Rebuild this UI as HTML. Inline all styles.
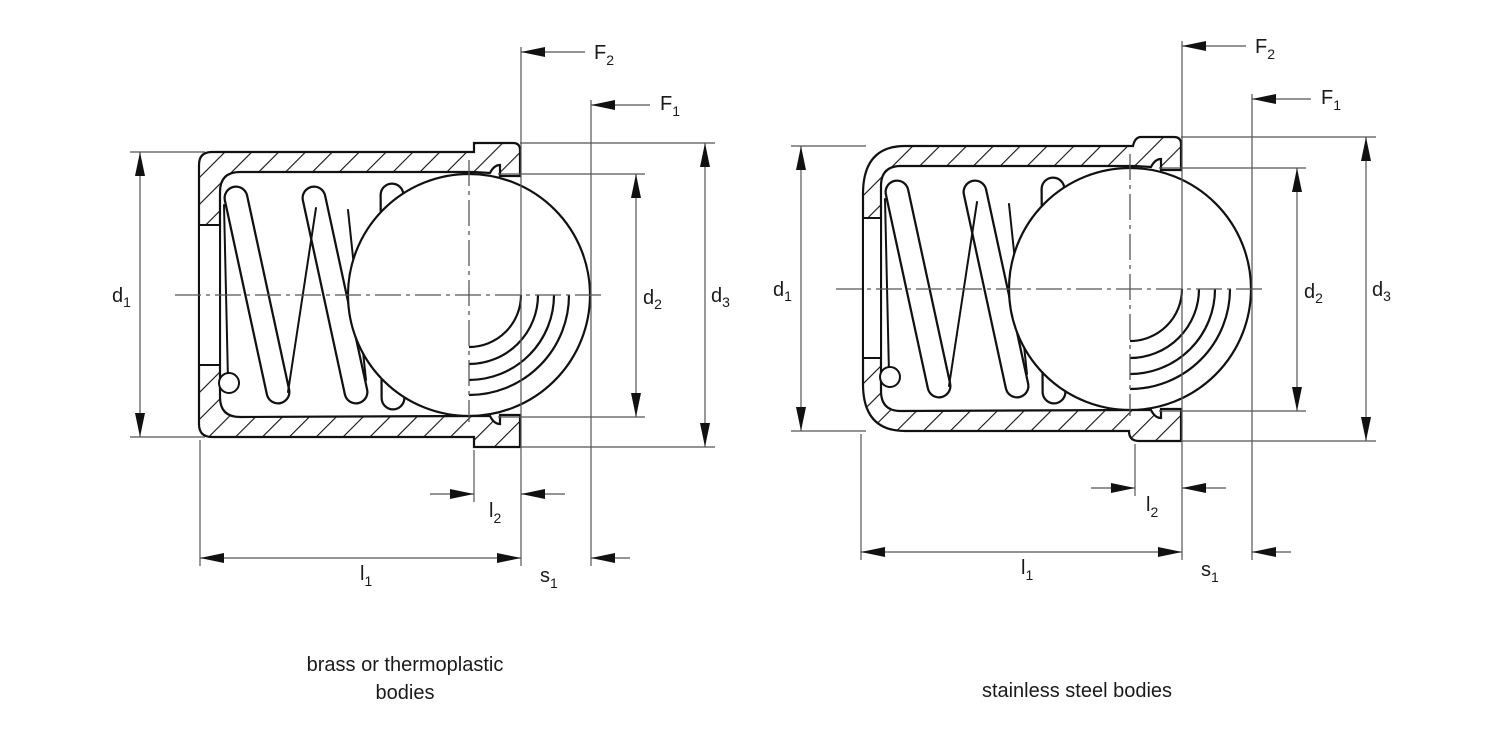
<!DOCTYPE html>
<html><head><meta charset="utf-8"><style>
html,body{margin:0;padding:0;background:#fff}
svg{display:block}
text{font-family:"Liberation Sans",Arial,sans-serif;fill:#1a1a1a}
</style></head><body>
<svg width="1500" height="750" viewBox="0 0 1500 750" xmlns="http://www.w3.org/2000/svg">
<defs>
<pattern id="h" patternUnits="userSpaceOnUse" width="19" height="19" patternTransform="rotate(45)">
<rect width="19" height="19" fill="#fff"/><line x1="0" y1="0" x2="0" y2="19" stroke="#111" stroke-width="2.2"/>
</pattern>
<marker id="a" viewBox="0 0 24 10" refX="24" refY="5" markerWidth="24" markerHeight="10" markerUnits="userSpaceOnUse" orient="auto-start-reverse">
<path d="M0,0 L24,5 L0,10 Z" fill="#111"/></marker>

<g id="inner">
<g fill="none" stroke-linecap="round">
<g stroke="#111" stroke-width="25">
<line x1="236" y1="198" x2="278" y2="392"/>
<line x1="314" y1="198" x2="356" y2="392"/>
<line x1="392" y1="195" x2="393" y2="398"/>
</g>
<g stroke="#fff" stroke-width="20.5">
<line x1="236" y1="198" x2="278" y2="392"/>
<line x1="314" y1="198" x2="356" y2="392"/>
<line x1="392" y1="195" x2="393" y2="398"/>
</g>
<path d="M288,392 L316,208 M366,380 L348,210 M224,205 L228,380" stroke="#111" stroke-width="2"/>
</g>
<circle cx="229" cy="383" r="10" fill="#fff" stroke="#111" stroke-width="2"/>
<circle cx="469" cy="295" r="121" fill="#fff" stroke="#111" stroke-width="2.2"/>
<g fill="none" stroke="#111" stroke-width="2.2">
<path d="M469,347 A52,52 0 0 0 521,295"/>
<path d="M469,364 A69,69 0 0 0 538,295"/>
<path d="M469,380 A85,85 0 0 0 554,295"/>
<path d="M469,395 A100,100 0 0 0 569,295"/>
</g>
<g stroke="#555" stroke-width="1.3" fill="none" stroke-dasharray="26,5,4,5">
<line x1="175" y1="295" x2="602" y2="295"/>
<line x1="469" y1="160" x2="469" y2="422"/>
</g>
<g stroke="#555" stroke-width="1.2" fill="none">
<line x1="130" y1="152" x2="205" y2="152"/>
<line x1="130" y1="437" x2="205" y2="437"/>
<line x1="498" y1="174" x2="645" y2="174"/>
<line x1="498" y1="417" x2="645" y2="417"/>
<line x1="520" y1="143" x2="715" y2="143"/>
<line x1="520" y1="447" x2="715" y2="447"/>
<line x1="200" y1="440" x2="200" y2="566"/>
<line x1="521" y1="47" x2="521" y2="566"/>
<line x1="591" y1="100" x2="591" y2="566"/>
<line x1="474" y1="450" x2="474" y2="502"/>
<line x1="140" y1="152" x2="140" y2="437" marker-start="url(#a)" marker-end="url(#a)"/>
<line x1="636" y1="174" x2="636" y2="417" marker-start="url(#a)" marker-end="url(#a)"/>
<line x1="705" y1="143" x2="705" y2="447" marker-start="url(#a)" marker-end="url(#a)"/>
<line x1="200" y1="558" x2="521" y2="558" marker-start="url(#a)" marker-end="url(#a)"/>
<line x1="591" y1="558" x2="630" y2="558" marker-start="url(#a)"/>
<line x1="430" y1="494" x2="474" y2="494" marker-end="url(#a)"/>
<line x1="565" y1="494" x2="521" y2="494" marker-end="url(#a)"/>
<line x1="585" y1="52" x2="521" y2="52" marker-end="url(#a)"/>
<line x1="650" y1="105" x2="591" y2="105" marker-end="url(#a)"/>
</g>
</g>
</defs>

<g>
<path fill-rule="evenodd" fill="url(#h)" stroke="#111" stroke-width="2.2"
 d="M520,176 L520,150 Q520,143 513,143 L474,143 L474,152 L212,152 Q199,152 199,165 L199,424 Q199,437 212,437 L474,437 L474,447 L520,447 L520,415 L500,415 L500,424 Q494,424 490,416 L474,416 L240,417 Q220,417 220,397 L220,192 Q220,172 240,172 L474,172 L490,173 Q494,165 500,165 L500,176 Z"/>
<rect x="199" y="225" width="21" height="140" fill="#fff" stroke="#111" stroke-width="2"/>
<use href="#inner"/>
</g>
<g transform="translate(661,-6)">
<path fill-rule="evenodd" fill="url(#h)" stroke="#111" stroke-width="2.2"
 d="M520,176 L520,150 Q520,143 513,143 L480,143 Q474,143 472,152 L244,152 Q202,152 202,200 L202,390 Q202,437 244,437 L468,437 Q468,447 478,447 L520,447 L520,415 L500,415 L500,424 Q494,424 490,416 L474,416 L240,417 Q220,417 220,397 L220,192 Q220,172 240,172 L474,172 L490,173 Q494,165 500,165 L500,176 Z"/>
<rect x="202" y="224" width="18" height="140" fill="#fff" stroke="#111" stroke-width="2"/>
<use href="#inner"/>
</g>

<g font-size="20">
<text x="112" y="302">d<tspan font-size="14" dy="5">1</tspan></text>
<text x="643" y="304">d<tspan font-size="14" dy="5">2</tspan></text>
<text x="711" y="302">d<tspan font-size="14" dy="5">3</tspan></text>
<text x="594" y="59">F<tspan font-size="14" dy="6">2</tspan></text>
<text x="660" y="110">F<tspan font-size="14" dy="6">1</tspan></text>
<text x="489" y="517">l<tspan font-size="14" dy="6">2</tspan></text>
<text x="360" y="580">l<tspan font-size="14" dy="6">1</tspan></text>
<text x="540" y="582">s<tspan font-size="14" dy="6">1</tspan></text>
<text x="773" y="296">d<tspan font-size="14" dy="5">1</tspan></text>
<text x="1304" y="298">d<tspan font-size="14" dy="5">2</tspan></text>
<text x="1372" y="296">d<tspan font-size="14" dy="5">3</tspan></text>
<text x="1255" y="53">F<tspan font-size="14" dy="6">2</tspan></text>
<text x="1321" y="104">F<tspan font-size="14" dy="6">1</tspan></text>
<text x="1146" y="511">l<tspan font-size="14" dy="6">2</tspan></text>
<text x="1021" y="574">l<tspan font-size="14" dy="6">1</tspan></text>
<text x="1201" y="576">s<tspan font-size="14" dy="6">1</tspan></text>
<text x="405" y="671" text-anchor="middle">brass or thermoplastic</text>
<text x="405" y="699" text-anchor="middle">bodies</text>
<text x="1077" y="697" text-anchor="middle">stainless steel bodies</text>
</g>
</svg>
</body></html>
